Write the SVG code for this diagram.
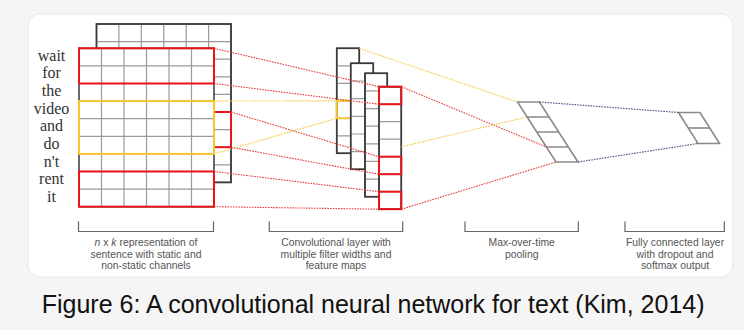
<svg xmlns="http://www.w3.org/2000/svg" width="744" height="330" viewBox="0 0 744 330">
<style>
.outer{fill:#fff;stroke:#3a3a3a;stroke-width:1.5}
.inner{fill:none;stroke:#9a9a9a;stroke-width:1.2}
.red{fill:none;stroke:#e8141b;stroke-width:2}
.yel{fill:none;stroke:#f7c530;stroke-width:2}
.pool{fill:#fff;stroke:#8a8a8a;stroke-width:1.6}
.dr{stroke:#e83a3a;stroke-width:1.1;stroke-dasharray:1.6 1.1;fill:none}
.dy{stroke:#f5c842;stroke-width:1.1;stroke-dasharray:1.6 1.1;fill:none}
.db{stroke:#4a5280;stroke-width:1.1;stroke-dasharray:1.6 1.1;fill:none}
.br{fill:none;stroke:#666;stroke-width:1.2}
.word{font-family:"Liberation Serif",serif;font-size:16px;fill:#333;text-anchor:middle}
.lab{font-family:"Liberation Sans",Arial,sans-serif;font-size:10.4px;fill:#555;text-anchor:middle}
</style>
<rect x="0" y="0" width="744" height="330" fill="#f5f5f5"/>
<rect x="28" y="14" width="705" height="263" rx="12" fill="#fff" stroke="#e6e6e6"/>

<g id="words">
<text class="word" x="51.5" y="60.5">wait</text>
<text class="word" x="51.5" y="78.2">for</text>
<text class="word" x="51.5" y="95.9">the</text>
<text class="word" x="51.5" y="113.6">video</text>
<text class="word" x="51.5" y="131.3">and</text>
<text class="word" x="51.5" y="149">do</text>
<text class="word" x="51.5" y="166.7">n't</text>
<text class="word" x="51.5" y="184.4">rent</text>
<text class="word" x="51.5" y="202.1">it</text>
</g>

<g id="input-back">
<rect class="outer" x="96.5" y="24" width="134.5" height="158.4"/>
<path class="inner" d="M118.9 24V182.4M141.3 24V182.4M163.8 24V182.4M186.2 24V182.4M208.6 24V182.4M96.5 41.6H231M96.5 59.2H231M96.5 76.8H231M96.5 94.4H231M96.5 112H231M96.5 129.6H231M96.5 147.2H231M96.5 164.8H231"/>
<rect class="outer" x="96.5" y="24" width="134.5" height="158.4" style="fill:none"/>
<rect class="red" x="214" y="112" width="17" height="35.2"/>
</g>

<g id="input-front">
<rect class="outer" x="79" y="48.3" width="135" height="158.4"/>
<path class="inner" d="M101.5 48.3V206.7M124 48.3V206.7M146.5 48.3V206.7M169 48.3V206.7M191.5 48.3V206.7M79 65.9H214M79 83.5H214M79 101.1H214M79 118.7H214M79 136.3H214M79 153.9H214M79 171.5H214M79 189.1H214"/>
<rect class="red" x="79" y="48.3" width="135" height="35.2"/>
<rect class="yel" x="79" y="101.1" width="135" height="52.8"/>
<rect class="red" x="79" y="171.5" width="135" height="35.2"/>
</g>

<g id="map1">
<rect class="outer" x="336.7" y="48.3" width="22.6" height="105"/>
<path class="inner" d="M336.7 65.8H359.3M336.7 83.3H359.3M336.7 100.8H359.3M336.7 118.3H359.3M336.7 135.8H359.3"/>
<rect class="outer" x="336.7" y="48.3" width="22.6" height="105" style="fill:none"/>
<rect class="yel" x="336.7" y="100.8" width="22.6" height="17.5"/>
</g>
<g id="map2">
<rect class="outer" x="350.7" y="63.3" width="22.6" height="106"/>
<path class="inner" d="M350.7 81H373.3M350.7 98.6H373.3M350.7 116.3H373.3M350.7 134H373.3M350.7 151.6H373.3"/>
<rect class="outer" x="350.7" y="63.3" width="22.6" height="106" style="fill:none"/>
</g>
<g id="map3">
<rect class="outer" x="365" y="73.3" width="22.3" height="123.4"/>
<path class="inner" d="M365 90.9H387.3M365 108.6H387.3M365 126.2H387.3M365 143.8H387.3M365 161.4H387.3M365 179.1H387.3"/>
<rect class="outer" x="365" y="73.3" width="22.3" height="123.4" style="fill:none"/>
</g>
<g id="map4">
<rect class="outer" x="379" y="86.7" width="22.3" height="122.5"/>
<path class="inner" d="M379 104.2H401.3M379 121.7H401.3M379 139.2H401.3M379 156.7H401.3M379 174.2H401.3M379 191.7H401.3"/>
<rect class="outer" x="379" y="86.7" width="22.3" height="122.5" style="fill:none"/>
<rect class="red" x="379" y="86.7" width="22.3" height="17.5"/>
<rect class="red" x="379" y="156.7" width="22.3" height="17.5"/>
<rect class="red" x="379" y="191.7" width="22.3" height="17.5"/>
</g>

<g id="pooling">
<path class="pool" d="M517.5 102H539.5L578 162H556Z"/>
<path class="pool" d="M527.1 117H549.1M536.75 132H558.75M546.4 147H568.4"/>
</g>
<g id="fc">
<path class="pool" d="M678.5 112.5H700L719.5 143.5H698Z"/>
<path class="pool" d="M688.3 128H709.8"/>
</g>

<g id="connectors">
<path class="dr" d="M214 48.3L379 86.7"/>
<path class="dr" d="M214 83.5L379 104.2"/>
<path class="dr" d="M231 112L379 156.7"/>
<path class="dr" d="M231 147.2L379 174.2"/>
<path class="dr" d="M214 171.5L379 191.7"/>
<path class="dr" d="M214 206.7L379 209.2"/>
<path class="dr" d="M401.3 86.7L546.4 147"/>
<path class="dr" d="M401.3 209.2L556 162"/>
<path class="dy" d="M214 101.1L336.7 100.8"/>
<path class="dy" d="M214 153.9L336.7 118.3"/>
<path class="dy" d="M359.3 48.3L517.5 102"/>
<path class="dy" d="M401.3 146.7L527.1 117"/>
<path class="db" d="M539.5 102L678.5 112.5"/>
<path class="db" d="M578 162L698 143.5"/>
</g>

<g id="brackets">
<path class="br" d="M78.5 221.5V231.5H213.5V221.5"/>
<path class="br" d="M269.3 221.5V231.5H402.7V221.5"/>
<path class="br" d="M465 221.5V231.5H578.3V221.5"/>
<path class="br" d="M625 221.5V231.5H724.3V221.5"/>
</g>

<g id="labels">
<text class="lab" x="146" y="246"><tspan font-style="italic">n</tspan> x <tspan font-style="italic">k</tspan> representation of</text>
<text class="lab" x="146" y="257.5">sentence with static and</text>
<text class="lab" x="146" y="269">non-static channels</text>
<text class="lab" x="336" y="246">Convolutional layer with</text>
<text class="lab" x="336" y="257.5">multiple filter widths and</text>
<text class="lab" x="336" y="269">feature maps</text>
<text class="lab" x="521.7" y="246">Max-over-time</text>
<text class="lab" x="521.7" y="257.5">pooling</text>
<text class="lab" x="675" y="246">Fully connected layer</text>
<text class="lab" x="675" y="257.5">with dropout and</text>
<text class="lab" x="675" y="269">softmax output</text>
</g>

<text x="41.7" y="313" font-family="'Liberation Sans',Arial,sans-serif" font-size="25" fill="#111">Figure 6: A convolutional neural network for text (Kim, 2014)</text>
</svg>
